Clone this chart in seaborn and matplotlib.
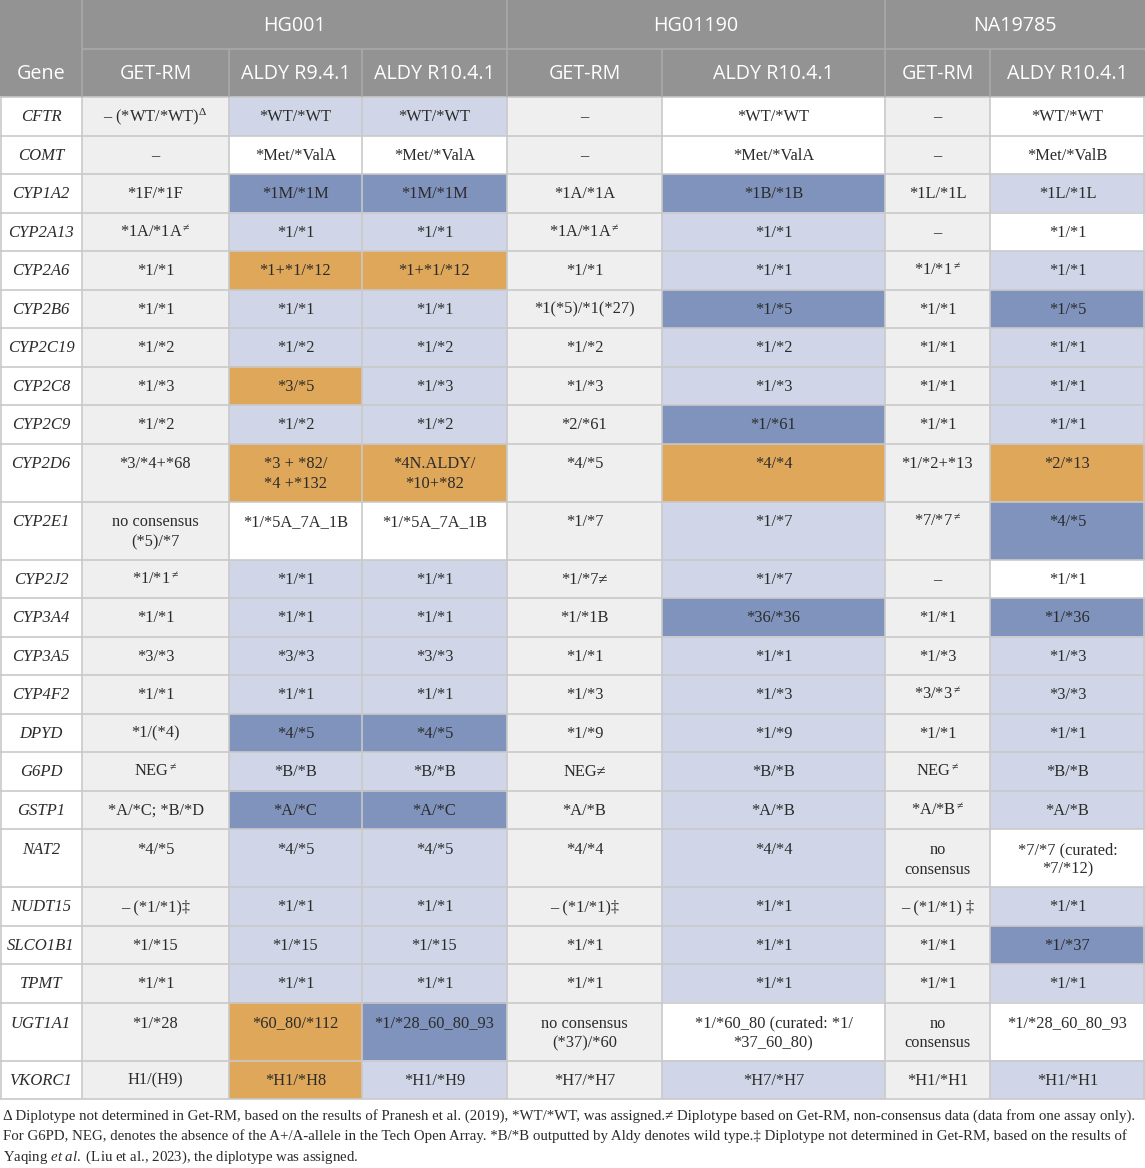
import numpy as np
import matplotlib
matplotlib.use("Agg")
import matplotlib.pyplot as plt
from matplotlib.colors import ListedColormap
import seaborn as sns

sns.set_theme(style="white")
plt.rcParams["mathtext.fontset"] = "custom"
plt.rcParams["mathtext.rm"] = "Liberation Serif"
plt.rcParams["mathtext.it"] = "Liberation Serif:italic"

# ---- data ----
samples = ["HG001", "HG01190", "NA19785"]
methods = ["GET-RM", "ALDY R9.4.1", "ALDY R10.4.1", "GET-RM", "ALDY R10.4.1", "GET-RM", "ALDY R10.4.1"]
genes = ["CFTR", "COMT", "CYP1A2", "CYP2A13", "CYP2A6", "CYP2B6", "CYP2C19", "CYP2C8",
         "CYP2C9", "CYP2D6", "CYP2E1", "CYP2J2", "CYP3A4", "CYP3A5", "CYP4F2", "DPYD",
         "G6PD", "GSTP1", "NAT2", "NUDT15", "SLCO1B1", "TPMT", "UGT1A1", "VKORC1"]

D = r"$^{\Delta}$"
N = r"$^{\neq}$"
hg001_getrm = ["– (*WT/*WT)" + D, "–", "*1F/*1F", "*1A/*1A" + N, "*1/*1", "*1/*1", "*1/*2", "*1/*3",
               "*1/*2", "*3/*4+*68", "no consensus\n(*5)/*7", "*1/*1" + N, "*1/*1", "*3/*3", "*1/*1",
               "*1/(*4)", "NEG" + N, "*A/*C; *B/*D", "*4/*5", "– (*1/*1)‡", "*1/*15", "*1/*1",
               "*1/*28", "H1/(H9)"]
hg001_r9 = ["*WT/*WT", "*Met/*ValA", "*1M/*1M", "*1/*1", "*1+*1/*12", "*1/*1", "*1/*2", "*3/*5",
            "*1/*2", "*3 + *82/\n*4 +*132", "*1/*5A_7A_1B", "*1/*1", "*1/*1", "*3/*3", "*1/*1",
            "*4/*5", "*B/*B", "*A/*C", "*4/*5", "*1/*1", "*1/*15", "*1/*1", "*60_80/*112", "*H1/*H8"]
hg001_r10 = ["*WT/*WT", "*Met/*ValA", "*1M/*1M", "*1/*1", "*1+*1/*12", "*1/*1", "*1/*2", "*1/*3",
             "*1/*2", "*4N.ALDY/\n*10+*82", "*1/*5A_7A_1B", "*1/*1", "*1/*1", "*3/*3", "*1/*1",
             "*4/*5", "*B/*B", "*A/*C", "*4/*5", "*1/*1", "*1/*15", "*1/*1", "*1/*28_60_80_93",
             "*H1/*H9"]
hg01190_getrm = ["–", "–", "*1A/*1A", "*1A/*1A" + N, "*1/*1", "*1(*5)/*1(*27)", "*1/*2", "*1/*3",
                 "*2/*61", "*4/*5", "*1/*7", "*1/*7≠", "*1/*1B", "*1/*1", "*1/*3", "*1/*9", "NEG≠",
                 "*A/*B", "*4/*4", "– (*1/*1)‡", "*1/*1", "*1/*1", "no consensus\n(*37)/*60",
                 "*H7/*H7"]
hg01190_r10 = ["*WT/*WT", "*Met/*ValA", "*1B/*1B", "*1/*1", "*1/*1", "*1/*5", "*1/*2", "*1/*3",
               "*1/*61", "*4/*4", "*1/*7", "*1/*7", "*36/*36", "*1/*1", "*1/*3", "*1/*9", "*B/*B",
               "*A/*B", "*4/*4", "*1/*1", "*1/*1", "*1/*1", "*1/*60_80 (curated: *1/\n*37_60_80)",
               "*H7/*H7"]
na19785_getrm = ["–", "–", "*1L/*1L", "–", "*1/*1" + N, "*1/*1", "*1/*1", "*1/*1", "*1/*1",
                 "*1/*2+*13", "*7/*7" + N, "–", "*1/*1", "*1/*3", "*3/*3" + N, "*1/*1", "NEG" + N,
                 "*A/*B" + N, "no\nconsensus", "– (*1/*1) ‡", "*1/*1", "*1/*1", "no\nconsensus",
                 "*H1/*H1"]
na19785_r10 = ["*WT/*WT", "*Met/*ValB", "*1L/*1L", "*1/*1", "*1/*1", "*1/*5", "*1/*1", "*1/*1",
               "*1/*1", "*2/*13", "*4/*5", "*1/*1", "*1/*36", "*1/*3", "*3/*3", "*1/*1", "*B/*B",
               "*A/*B", "*7/*7 (curated:\n*7/*12)", "*1/*1", "*1/*37", "*1/*1", "*1/*28_60_80_93",
               "*H1/*H1"]

# cell shading of ALDY calls: w = none, l = light, b = blue, o = orange
hg001_r9_cls = "l w b l o l l o l o w l l l l b l b l l l l o o".split()
hg001_r10_cls = "l w b l o l l l l o w l l l l b l b l l l l b l".split()
hg01190_r10_cls = "w w b l l b l l b o l l b l l l l l l l l l w l".split()
na19785_r10_cls = "w w l w l b l l l o b w b l l l l l w l b l w l".split()

tall_rows = ["CYP2D6", "CYP2E1", "NAT2", "UGT1A1"]

footnote = [
    "Δ Diplotype not determined in Get-RM, based on the results of Pranesh et al. (2019), *WT/*WT, was assigned.≠ Diplotype based on Get-RM, non-consensus data (data from one assay only).",
    "For G6PD, NEG, denotes the absence of the A+/A-allele in the Tech Open Array. *B/*B outputted by Aldy denotes wild type.‡ Diplotype not determined in Get-RM, based on the results of",
    r"Yaqing $\it{et\ al.}$ (Liu et al., 2023), the diplotype was assigned.",
]

# ---- layout ----
W, H = 1145, 1168
col_w = [82, 147, 133, 145, 155, 223, 105, 155]
head_h = [48.5, 48.5]
single_h, tall_h = 38.5, 58.0
row_h = head_h + [tall_h if g in tall_rows else single_h for g in genes]
y_edges = np.concatenate([[0], np.cumsum(row_h)])
x_edges = np.concatenate([[0], np.cumsum(col_w)])
y_pix = np.round(y_edges).astype(int)
x_pix = np.round(x_edges).astype(int)

code = {"w": 0, "g": 1, "l": 2, "b": 3, "o": 4, "h": 5}
body_cols = [["w"] * len(genes), ["g"] * len(genes), hg001_r9_cls, hg001_r10_cls,
             ["g"] * len(genes), hg01190_r10_cls, ["g"] * len(genes), na19785_r10_cls]
grid = np.full((len(row_h), len(col_w)), code["h"])
for j, col in enumerate(body_cols):
    grid[2:, j] = [code[c] for c in col]
big = np.repeat(np.repeat(grid, np.diff(y_pix), axis=0), np.diff(x_pix), axis=1)

cmap = ListedColormap(["#ffffff", "#efefef", "#d0d6e7", "#7f93bd", "#dfa75a", "#939393"])

fig = plt.figure(figsize=(W / 100, H / 100), dpi=100)
ax = fig.add_axes([0, 0, 1, 1])
sns.heatmap(big, ax=ax, cmap=cmap, vmin=-0.5, vmax=5.5, cbar=False,
            xticklabels=False, yticklabels=False)
ax.set_xlim(0, W)
ax.set_ylim(H, 0)
ax.axis("off")

# grid lines
line_c = "#c9c9c9"
head_line = "#a9a9a9"
for y in y_edges[2:]:
    ax.hlines(y, 0, W, color=line_c, lw=1.2)
ax.hlines(y_edges[1], x_edges[1], W, color=head_line, lw=1.2)
for x in x_edges[1:-1]:
    ax.vlines(x, y_edges[2], y_edges[-1], color=line_c, lw=1.2)
for x in [x_edges[1], x_edges[4], x_edges[6]]:
    ax.vlines(x, 0, y_edges[2], color=head_line, lw=1.2)
for x in [x_edges[2], x_edges[3], x_edges[5], x_edges[7]]:
    ax.vlines(x, y_edges[1], y_edges[2], color=head_line, lw=1.2)
ax.vlines([0.6, W - 0.6], y_edges[2], y_edges[-1], color=line_c, lw=1.2)

# header text
hfont = dict(family="Open Sans", fontsize=14.2, color="white", ha="center", va="center")
spans = [(1, 4), (4, 6), (6, 8)]
for s, (a, b) in zip(samples, spans):
    ax.text((x_edges[a] + x_edges[b]) / 2, (y_edges[0] + y_edges[1]) / 2 + 1.5, s, **hfont)
ax.text(x_edges[1] / 2, (y_edges[1] + y_edges[2]) / 2 + 1.5, "Gene", **hfont)
for j, m in enumerate(methods, start=1):
    ax.text((x_edges[j] + x_edges[j + 1]) / 2, (y_edges[1] + y_edges[2]) / 2 + 1.5, m, **hfont)

# body text
body_vals = [genes, hg001_getrm, hg001_r9, hg001_r10, hg01190_getrm, hg01190_r10,
             na19785_getrm, na19785_r10]
for i, g in enumerate(genes):
    top = y_edges[i + 2]
    y0 = top + (20 if g in tall_rows else single_h / 2)
    for j, col in enumerate(body_vals):
        xc = (x_edges[j] + x_edges[j + 1]) / 2
        for k, line in enumerate(col[i].split("\n")):
            ax.text(xc, y0 + 19.5 * k + 5, line, ha="center", va="baseline",
                    family="Liberation Serif", fontsize=12 if j == 0 else 11.8,
                    color="#2b2b2b", style="italic" if j == 0 else "normal")

# footnote, scaled to span the width
fig.canvas.draw()
r = fig.canvas.get_renderer()
t = ax.text(3, y_edges[-1] + 17, footnote[0], family="Liberation Serif", fontsize=10,
            color="#2b2b2b", va="center", ha="left")
wpx = t.get_window_extent(renderer=r).width
fs = 10 * 1136 / wpx
t.set_fontsize(fs)
for k in (1, 2):
    ax.text(3, y_edges[-1] + 17 + 20.5 * k, footnote[k], family="Liberation Serif",
            fontsize=fs, color="#2b2b2b", va="center", ha="left")

fig.savefig("out.png", dpi=100)
